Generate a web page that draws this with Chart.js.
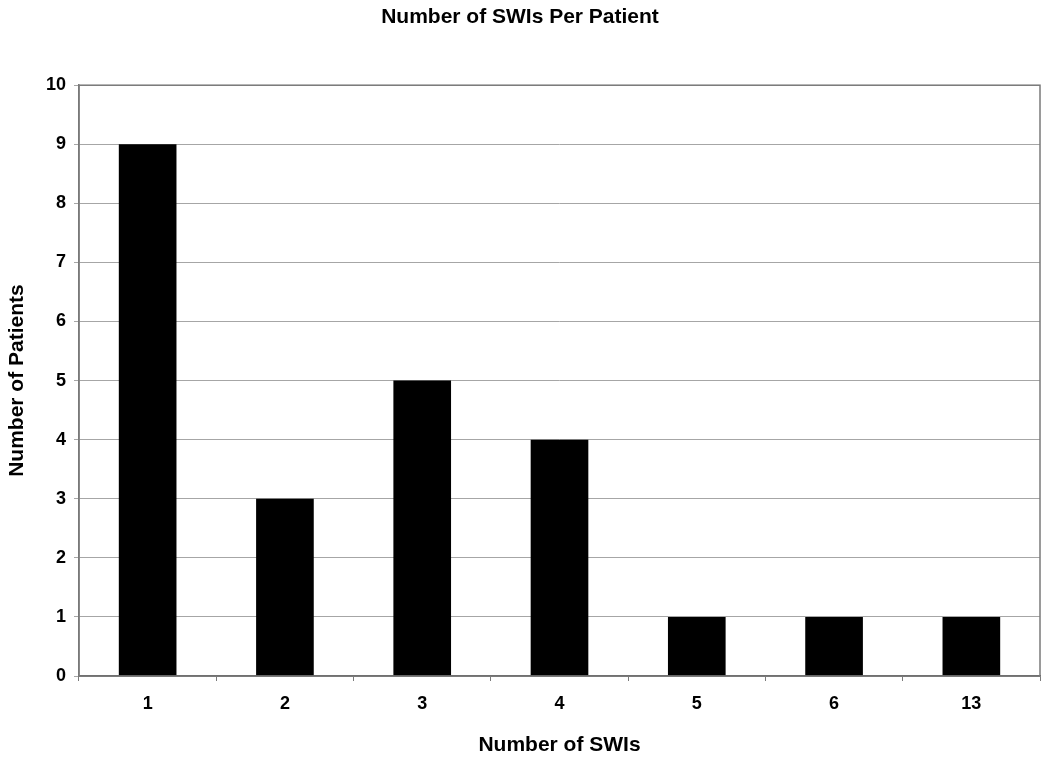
<!DOCTYPE html>
<html>
<head>
<meta charset="utf-8">
<script src="https://cdn.jsdelivr.net/npm/chart.js@4"></script>
<style>
  body { margin: 0; background: #fff; }
  #wrap { width: 1050px; height: 765px; }
</style>
</head>
<body>
<div id="wrap"><canvas id="swiChart" width="1050" height="765"></canvas></div>
<script>
// SWIs per patient
var swiCounts = ["1", "2", "3", "4", "5", "6", "13"];
var patients = [9, 3, 5, 4, 1, 1, 1];
var yTicks = [0, 1, 2, 3, 4, 5, 6, 7, 8, 9, 10];

var fontFam = "'Liberation Sans', Arial, sans-serif";

// gray frame around the plot area
var plotFrame = {
  id: "plotFrame",
  afterDraw: function (chart) {
    var a = chart.chartArea;
    var ctx = chart.ctx;
    ctx.save();
    ctx.strokeStyle = "#7a7a7a";
    ctx.lineWidth = 1.5;
    ctx.strokeRect(a.left, a.top, a.right - a.left, a.bottom - a.top);
    ctx.restore();
  }
};

new Chart("swiChart", {
  type: "bar",
  data: {
    labels: swiCounts,
    datasets: [
      {
        data: patients,
        backgroundColor: "#000",
        barPercentage: 0.42,
        categoryPercentage: 1,
      },
    ],
  },
  options: {
    responsive: false,
    animation: false,
    layout: { padding: { left: 0, right: 10, top: 0, bottom: 0 } },
    plugins: {
      legend: { display: false },
      tooltip: { enabled: false },
      title: {
        display: true,
        text: "Number of SWIs Per Patient",
        color: "#000",
        font: { family: fontFam, size: 21, weight: "bold" },
        padding: { top: 5, bottom: 55 },
      },
    },
    scales: {
      x: {
        grid: { offset: true, drawOnChartArea: false, tickLength: 5, color: "#7a7a7a" },
        border: { color: "#555", width: 1.5 },
        ticks: { color: "#000", padding: 12, font: { family: fontFam, size: 18, weight: "bold" } },
        title: {
          display: true,
          text: "Number of SWIs",
          color: "#000",
          font: { family: fontFam, size: 21, weight: "bold" },
          padding: { top: 4, bottom: 7 },
        },
        afterFit: function (s) { s.height = 89; },
      },
      y: {
        min: 0,
        max: 10,
        afterBuildTicks: function (s) { s.ticks = yTicks.map(function (v) { return { value: v }; }); },
        grid: { color: "#a6a6a6", tickLength: 5 },
        border: { color: "#7a7a7a", width: 1.5 },
        ticks: { color: "#000", padding: 8, font: { family: fontFam, size: 18, weight: "bold" } },
        title: {
          display: true,
          text: "Number of Patients",
          color: "#000",
          font: { family: fontFam, size: 21, weight: "bold" },
          padding: { top: 5, bottom: 0 },
        },
        afterFit: function (s) { s.width = 79; },
      },
    },
  },
  plugins: [plotFrame],
});
</script>
</body>
</html>
